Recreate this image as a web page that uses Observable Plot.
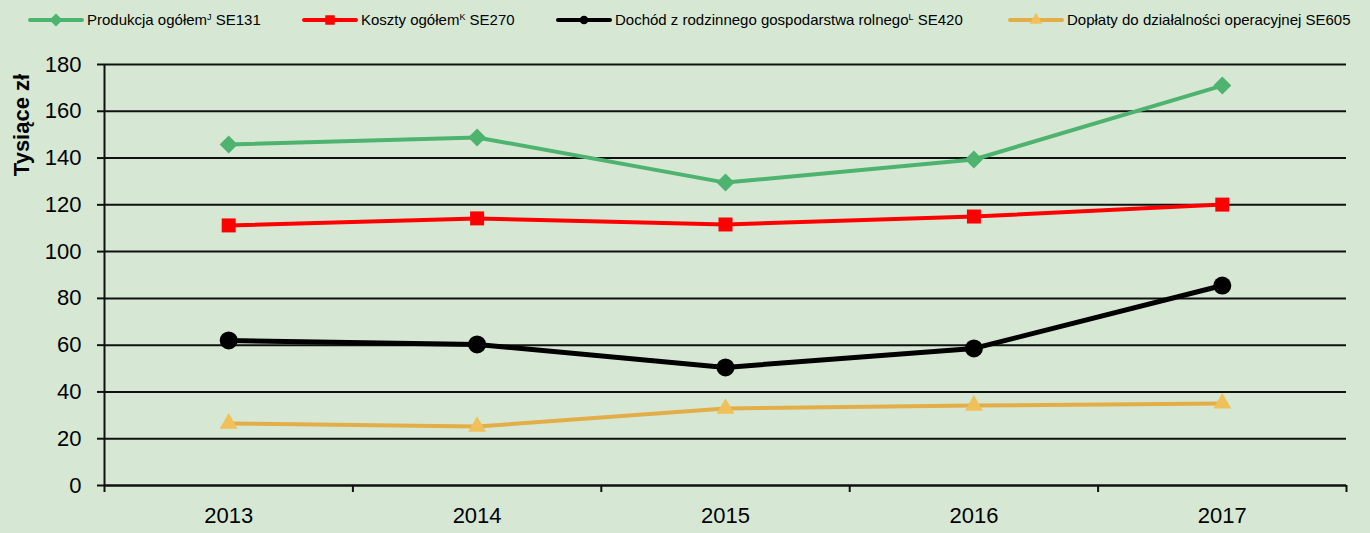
<!DOCTYPE html>
<html><head><meta charset="utf-8">
<script src="https://cdn.jsdelivr.net/npm/d3@7"></script>
<script src="https://cdn.jsdelivr.net/npm/@observablehq/plot@0.6"></script>
<style>
html,body{margin:0;padding:0;background:#d6e8d4;}
body{width:1370px;height:533px;overflow:hidden;font-family:"Liberation Sans",Arial,sans-serif;}
#legend{position:relative;height:38px;}
.item{position:absolute;top:11px;display:flex;align-items:center;font-size:15px;color:#000;white-space:nowrap;}
.item svg{margin-right:3px;}
sup{font-size:9px;vertical-align:5px;}
</style></head><body>
<div id="legend"></div>
<div id="chart"></div>
<script>
const years = [2013, 2014, 2015, 2016, 2017];
const produkcja = [145.8, 148.8, 129.5, 139.4, 171.0];
const koszty = [111.2, 114.2, 111.6, 115.0, 120.1];
const dochod = [62.0, 60.3, 50.5, 58.6, 85.5];
const doplaty = [26.5, 25.2, 32.9, 34.2, 35.1];
const yTicks = [0, 20, 40, 60, 80, 100, 120, 140, 160, 180];

const series = [
  {key: "p", name: "Produkcja ogółem", sup: "J", code: " SE131", values: produkcja, color: "#4db36f", mfill: "#4db36f", symbol: "diamond2", r: 8.1, sw: 4, lx: 28, ls: 55},
  {key: "k", name: "Koszty ogółem", sup: "K", code: " SE270", values: koszty, color: "#ff0000", mfill: "#ff0000", symbol: "square", r: 7.9, sw: 4, lx: 302, ls: 90},
  {key: "d", name: "Dochód z rodzinnego gospodarstwa rolnego", sup: "L", code: " SE420", values: dochod, color: "#000000", mfill: "#000000", symbol: "circle", r: 9, sw: 5, lx: 556, ls: 60},
  {key: "o", name: "Dopłaty do działalności operacyjnej", sup: "", code: " SE605", values: doplaty, color: "#e3ae48", mfill: "#f0c05a", symbol: "triangle", r: 6.7, sw: 4, lx: 1008, ls: 110}
];

const data = series.flatMap(s => years.map((yr, i) => ({key: s.key, year: yr, value: s.values[i]})));

// legend
const legend = document.getElementById("legend");
const symPaths = {
  diamond2: d3.symbol(d3.symbolDiamond2, s => 0)(),
  square: d3.symbol(d3.symbolSquare, 90)(),
  circle: d3.symbol(d3.symbolCircle, 60)(),
  triangle: d3.symbol(d3.symbolTriangle, 70)()
};
symPaths.diamond2 = d3.symbol(d3.symbolDiamond2, 110)();
series.forEach(s => {
  const div = document.createElement("div");
  div.className = "item";
  div.style.left = s.lx + "px";
  div.innerHTML = `<svg width="56" height="16"><line x1="2" x2="54" y1="8" y2="8" stroke="${s.color}" stroke-width="4" stroke-linecap="round"/><path transform="translate(28,8)" d="${symPaths[s.symbol]}" fill="${s.mfill}"/></svg><span>${s.name}${s.sup ? `<sup>${s.sup}</sup>` : ""}${s.code}</span>`;
  legend.appendChild(div);
});

const bounds = [2012.5, 2013.5, 2014.5, 2015.5, 2016.5, 2017.5];
const marks = [
  Plot.gridY(yTicks, {stroke: "#111", strokeOpacity: 1, strokeWidth: 2}),
  Plot.axisY(yTicks, {tickSize: 7, tickPadding: 16, stroke: "#111", strokeWidth: 2, fontSize: 22, label: null}),
  Plot.axisX(bounds, {tickSize: 7, tickFormat: () => "", stroke: "#111", strokeWidth: 2, label: null}),
  Plot.axisX(years, {tickSize: 0, tickPadding: 22, fontSize: 22, tickFormat: d => String(d), label: null}),
  Plot.ruleX([2012.5], {y1: 0, y2: 180, stroke: "#111", strokeWidth: 2}),
  Plot.ruleY([0], {stroke: "#111", strokeWidth: 2})
];
series.forEach(s => {
  const d = data.filter(r => r.key === s.key);
  marks.push(Plot.line(d, {x: "year", y: "value", stroke: s.color, strokeWidth: s.sw}));
  marks.push(Plot.dot(d, {x: "year", y: "value", symbol: () => s.symbol, r: s.r, fill: s.mfill, stroke: "none"}));
});

const chart = Plot.plot({
  width: 1370,
  height: 495,
  marginTop: 26,
  marginBottom: 48,
  marginLeft: 104,
  marginRight: 24,
  style: {background: "transparent", fontFamily: '"Liberation Sans",Arial,sans-serif', color: "#000"},
  x: {type: "linear", domain: [2012.5, 2017.5], label: null},
  y: {domain: [0, 180], label: null},
  symbol: {type: "identity"},
  marks
});
document.getElementById("chart").appendChild(chart);

// y axis title
const svg = d3.select(chart);
svg.append("text")
  .attr("transform", "translate(29,87) rotate(-90)")
  .attr("text-anchor", "middle")
  .attr("font-size", 22)
  .attr("font-weight", "bold")
  .attr("font-family", '"Liberation Sans",Arial,sans-serif')
  .attr("fill", "#000")
  .text("Tysiące zł");
</script>
</body></html>
